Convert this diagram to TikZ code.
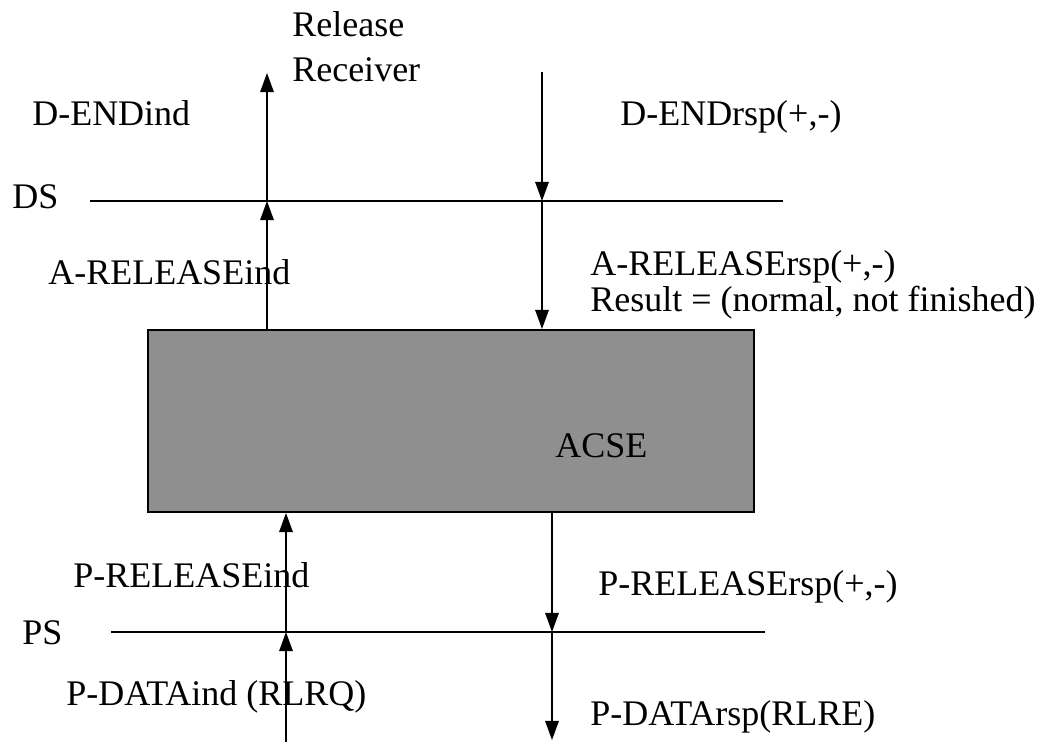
\documentclass[tikz,border=0pt]{standalone}
\usepackage{fontspec}
\setmainfont{Liberation Serif}
\usepackage{tikz}
\usetikzlibrary{arrows.meta}
\definecolor{acsegray}{HTML}{8F8F8F}

\begin{document}
\begin{tikzpicture}[x=0.025cm,y=-0.025cm,font=\fontsize{25.6}{32}\selectfont,
    lbl/.style={anchor=base west,inner sep=0pt},
    sig/.style={line width=1.1pt,-{Triangle[length=4.8mm,width=3.4mm]}},
    layer/.style={line width=1.1pt},
    acsebox/.style={draw,line width=1.4pt,fill=acsegray,minimum width=15.15cm,minimum height=4.55cm,inner sep=0pt}]
    \useasboundingbox (0,0) rectangle (1048,742);
    \coordinate (dsL) at (90,201);  \coordinate (dsR) at (783,201);
    \coordinate (psL) at (111,632); \coordinate (psR) at (765,632);
    \draw[layer] (dsL)--(dsR);
    \draw[layer] (psL)--(psR);
    \node[acsebox] (acse) at (451,421) {};
    \coordinate (relTop) at (267,73);
    \coordinate (rspTop) at (542,72);
    \coordinate (indBot) at (286,742);
    \coordinate (rspBot) at (552,740);
    \draw[sig] (relTop |- acse.north)--(relTop |- dsL);
    \draw[sig] (relTop |- dsL)--(relTop);
    \draw[sig] (rspTop)--(rspTop |- dsL);
    \draw[sig] (rspTop |- dsL)--(rspTop |- acse.north);
    \draw[sig] (indBot)--(indBot |- psL);
    \draw[sig] (indBot |- psL)--(indBot |- acse.south);
    \draw[sig] (rspBot |- acse.south)--(rspBot |- psL);
    \draw[sig] (rspBot |- psL)--(rspBot);
    \node[anchor=west,inner sep=0pt,align=left] (relrcv) at (292,47) {Release\\Receiver};
    \node[lbl] (dendind) at (32,126) {D-ENDind};
    \node[lbl] (dendrsp) at (620,126) {D-ENDrsp(+,-)};
    \node[lbl] (dslbl) at (12,208) {DS};
    \node[lbl] (areind) at (48,284) {A-RELEASEind};
    \node[anchor=west,inner sep=0pt,align=left,font=\fontsize{25.6}{25.6}\selectfont] (arersp) at (590,285) {A-RELEASErsp(+,-)\\Result = (normal, not finished)};
    \node[lbl] (acselbl) at (555,457) {ACSE};
    \node[lbl] (preind) at (73,587) {P-RELEASEind};
    \node[lbl] (prersp) at (598,595) {P-RELEASErsp(+,-)};
    \node[lbl] (pslbl) at (22,644) {PS};
    \node[lbl] (pdind) at (66,705) {P-DATAind (RLRQ)};
    \node[lbl] (pdrsp) at (590,725) {P-DATArsp(RLRE)};
  \end{tikzpicture}
\end{document}
